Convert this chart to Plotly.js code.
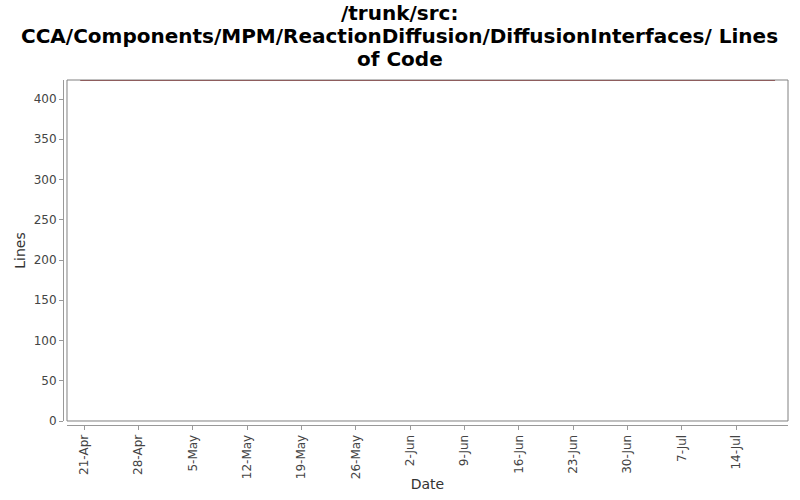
<!DOCTYPE html>
<html>
<head>
<meta charset="utf-8">
<script src="https://cdn.plot.ly/plotly-3.0.1.min.js"></script>
<style>
  body { margin: 0; background: #fff; }
  #chart { width: 800px; height: 500px; }
</style>
</head>
<body>
<div id="chart"></div>
<script>
// lines of code over time (flat for the whole period)
const dates = ['2009-04-20 12:00', '2009-07-19 00:00']
const lines = [423, 423]

// weekly tick marks as in the picture
const tickDates = ['2009-04-21', '2009-04-28', '2009-05-05', '2009-05-12', '2009-05-19',
  '2009-05-26', '2009-06-02', '2009-06-09', '2009-06-16', '2009-06-23',
  '2009-06-30', '2009-07-07', '2009-07-14']
const tickLabels = ['21-Apr', '28-Apr', '5-May', '12-May', '19-May', '26-May', '2-Jun',
  '9-Jun', '16-Jun', '23-Jun', '30-Jun', '7-Jul', '14-Jul']

const yTicks = [0, 50, 100, 150, 200, 250, 300, 350, 400]

// title is wrapped over three lines like the original
const titleLines = ['/trunk/src:',
  'CCA/Components/MPM/ReactionDiffusion/DiffusionInterfaces/ Lines',
  'of Code']
const titleY = [1.1942, 1.1275, 1.0609]

const trace = {
  type: 'scatter',
  mode: 'lines',
  x: dates,
  y: lines,
  line: { color: '#9b3535', width: 1 },
  hoverinfo: 'x+y'
}

const axisFont = { family: 'DejaVu Sans', size: 12, color: '#444' }

const layout = {
  width: 800,
  height: 500,
  margin: { l: 63, r: 12, t: 80, b: 75 },
  paper_bgcolor: '#fff',
  plot_bgcolor: '#fff',
  showlegend: false,
  annotations: titleLines.map((t, i) => ({
    text: t,
    xref: 'paper', yref: 'paper',
    x: 0.4648, y: titleY[i],
    xanchor: 'center', yanchor: 'middle',
    showarrow: false,
    font: { family: 'DejaVu Sans', size: 20, color: '#000', weight: 'bold' }
  })),
  xaxis: {
    type: 'date',
    domain: [0.0055, 1],
    anchor: 'free',
    position: 0,
    range: ['2009-04-18 19:00', '2009-07-20 16:00'],
    tickmode: 'array',
    tickvals: tickDates,
    ticktext: tickLabels,
    tickangle: -90,
    tickfont: axisFont,
    ticks: 'outside',
    ticklen: 4,
    tickcolor: '#999',
    showline: true,
    linecolor: '#999',
    linewidth: 1,
    showgrid: false,
    zeroline: false,
    title: { text: 'Date', font: { family: 'DejaVu Sans', size: 14, color: '#333' }, standoff: 0 }
  },
  yaxis: {
    domain: [0.0116, 1],
    anchor: 'free',
    position: 0,
    range: [0, 423.6],
    tickmode: 'array',
    tickvals: yTicks,
    tickfont: axisFont,
    ticks: 'outside',
    ticklen: 4,
    tickcolor: '#999',
    showline: true,
    linecolor: '#999',
    linewidth: 1,
    showgrid: false,
    zeroline: false,
    title: { text: 'Lines', font: { family: 'DejaVu Sans', size: 14, color: '#333' }, standoff: 3 }
  },
  shapes: [{
    type: 'rect',
    xref: 'paper', yref: 'paper',
    x0: 0.0055, x1: 1, y0: 0.0116, y1: 1,
    line: { color: '#808080', width: 1 },
    fillcolor: 'rgba(0,0,0,0)',
    layer: 'above'
  }]
}

Plotly.newPlot('chart', [trace], layout, { displayModeBar: false, staticPlot: true })
</script>
</body>
</html>
